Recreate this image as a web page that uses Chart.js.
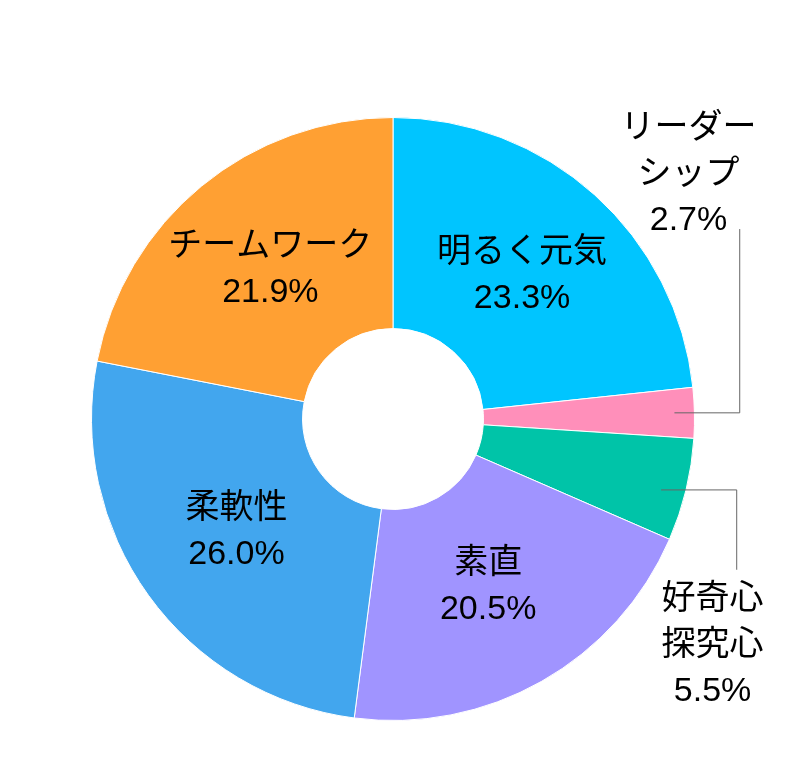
<!DOCTYPE html>
<html><head><meta charset="utf-8">
<script src="https://cdn.jsdelivr.net/npm/chart.js@4"></script>
<style>html,body{margin:0;padding:0;background:#fff}#w{width:787px;height:777px}</style>
</head><body><div id="w"><canvas id="c"></canvas></div>
<script>
const categories = ["明るく元気","リーダーシップ","好奇心探究心","素直","柔軟性","チームワーク"];
const labelLines = [["明るく元気"],["リーダー","シップ"],["好奇心","探究心"],["素直"],["柔軟性"],["チームワーク"]];
const values = [23.3,2.7,5.5,20.5,26.0,21.9];
const colors = ["#00C5FF","#FF8FBA","#00C4A8","#A094FF","#42A6EE","#FFA033"];
const FONT = '34px "Liberation Sans","Noto Sans CJK JP",sans-serif';

const labelPlugin = {
  id:'lbl',
  afterDatasetsDraw(chart){
    const ctx = chart.ctx;
    const meta = chart.getDatasetMeta(0);
    ctx.save();
    ctx.font = FONT; ctx.fillStyle = '#000'; ctx.textAlign='center'; ctx.textBaseline='middle';
    const lh = 46;
    meta.data.forEach((arc,i)=>{
      const {x,y,startAngle,endAngle,outerRadius} = arc.getProps(['x','y','startAngle','endAngle','outerRadius'],true);
      const mid=(startAngle+endAngle)/2;
      const lines = labelLines[i].concat([values[i].toFixed(1)+'%']);
      let cx, cy;
      if(i===1){
        cx = x + outerRadius*0.98; cy = y - outerRadius*0.81;
        ctx.strokeStyle='#666'; ctx.lineWidth=1;
        const ex = x+outerRadius*Math.cos(mid)-20, ey=y+outerRadius*Math.sin(mid);
        ctx.beginPath(); ctx.moveTo(ex,ey); ctx.lineTo(x+outerRadius*1.15,ey); ctx.lineTo(x+outerRadius*1.15,y-outerRadius*0.63); ctx.stroke();
      } else if(i===2){
        cx = x + outerRadius*1.06; cy = y + outerRadius*0.75;
        ctx.strokeStyle='#666'; ctx.lineWidth=1;
        const ex = x+outerRadius*Math.cos(mid)-25, ey=y+outerRadius*Math.sin(mid);
        ctx.beginPath(); ctx.moveTo(ex,ey); ctx.lineTo(x+outerRadius*1.14,ey); ctx.lineTo(x+outerRadius*1.14,y+outerRadius*0.5); ctx.stroke();
      } else {
        const r = outerRadius*0.64;
        cx = x + r*Math.cos(mid); cy = y + r*Math.sin(mid);
      }
      const top = cy - (lines.length-1)*lh/2;
      lines.forEach((t,k)=>ctx.fillText(t,cx,top+k*lh));
    });
    ctx.restore();
  }
};

new Chart(document.getElementById('c'),{
  type:'doughnut',
  data:{labels:categories,datasets:[{data:values,backgroundColor:colors,borderColor:'#fff',borderWidth:1}]},
  options:{responsive:true,maintainAspectRatio:false,animation:false,cutout:'30%',
    layout:{padding:{left:91,right:92,top:117,bottom:56}},
    plugins:{legend:{display:false},tooltip:{enabled:false}}},
  plugins:[labelPlugin]
});
</script></body></html>
